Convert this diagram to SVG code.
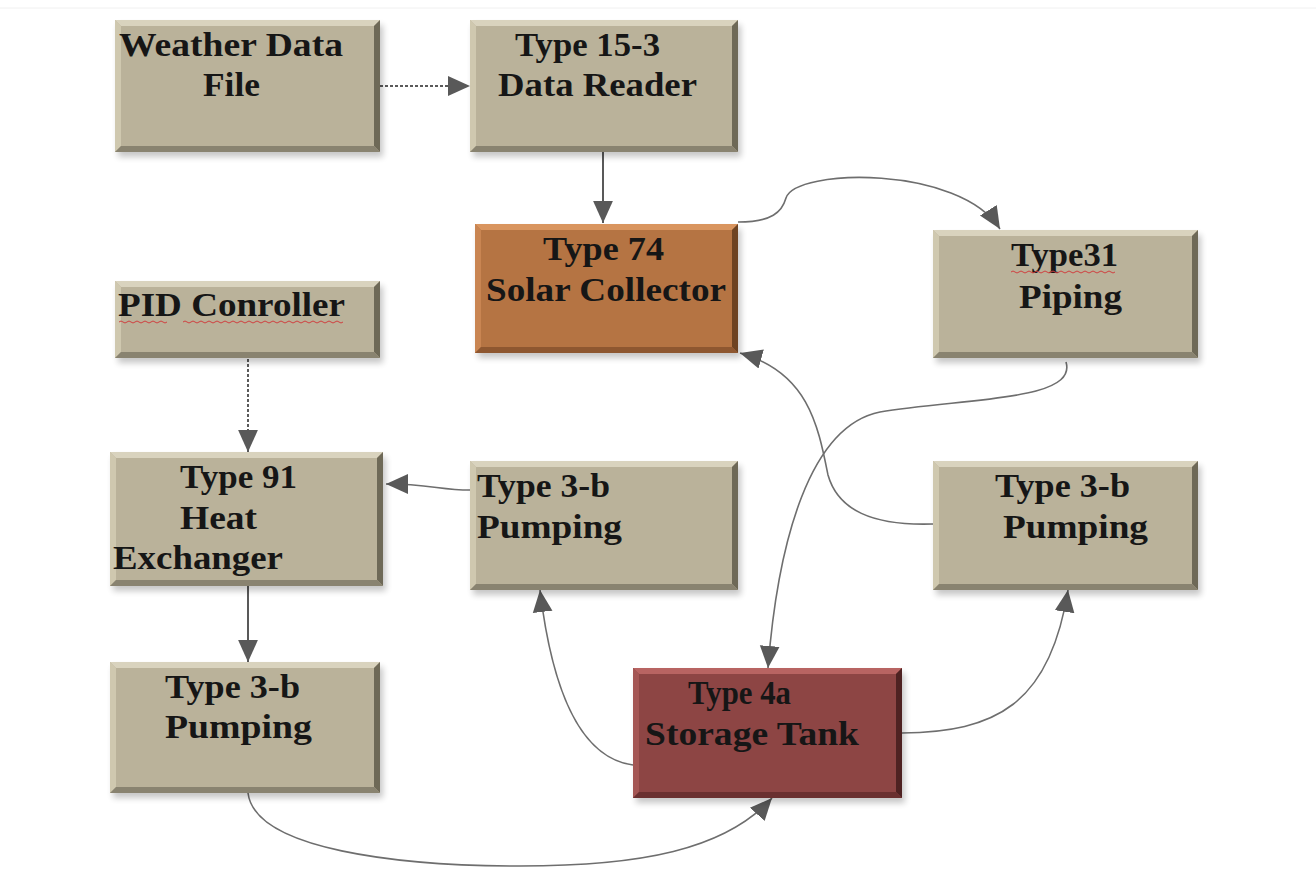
<svg xmlns="http://www.w3.org/2000/svg" width="1316" height="869" viewBox="0 0 1316 869">
<defs>
<style>
.lbl{font-family:"Liberation Serif","DejaVu Serif",serif;font-weight:bold;font-size:34px;fill:#161616}
.conn{fill:none;stroke:#6e6e6e;stroke-width:1.6}
.str{fill:none;stroke:#595959;stroke-width:2}
.dot{fill:none;stroke:#5a5a5a;stroke-width:2;stroke-dasharray:3 2}
.sq{fill:none;stroke:#d04040;stroke-width:1}
.bt{fill:#D9D3BE}.bl{fill:#CFC8AF}.br{fill:#6E6957}.bb{fill:#898370}
.sh{fill:#000;opacity:0.22}
</style>
<marker id="ahb" viewBox="0 0 10 10" refX="10" refY="5" markerWidth="22" markerHeight="22" markerUnits="userSpaceOnUse" orient="auto">
<path d="M0,0.5 L10,5 L0,9.5 z" fill="#595959"/>
</marker>
<filter id="blur" x="-10%" y="-10%" width="120%" height="120%"><feGaussianBlur stdDeviation="3"/></filter>
</defs>
<rect width="1316" height="869" fill="#ffffff"/>
<line x1="0" y1="8" x2="1316" y2="8" stroke="#f0f0f0" stroke-width="1"/>

<g id="connectors">
<line class="dot" x1="380" y1="86" x2="470" y2="86" marker-end="url(#ahb)"/>
<line class="str" x1="603" y1="152" x2="603" y2="223" marker-end="url(#ahb)"/>
<path class="conn" d="M738,222 C772,222 782,212 786,198 C795,168 960,165 1000,229" marker-end="url(#ahb)"/>
<path class="conn" d="M1066,362 C1078,402 960,398 880,412 C810,426 778,540 768,668" marker-end="url(#ahb)"/>
<path class="conn" d="M933,524 C872,526 838,510 828,475 C818,425 808,372 740,353" marker-end="url(#ahb)"/>
<path class="conn" d="M470,490 C440,490 430,484 386,484" marker-end="url(#ahb)"/>
<line class="dot" x1="248" y1="359" x2="248" y2="452" marker-end="url(#ahb)"/>
<line class="str" x1="248" y1="586" x2="248" y2="662" marker-end="url(#ahb)"/>
<path class="conn" d="M633,765 C580,758 552,690 540,590" marker-end="url(#ahb)"/>
<path class="conn" d="M902,733 C995,732 1050,705 1068,590" marker-end="url(#ahb)"/>
<path class="conn" d="M248,793 C255,850 400,866 520,866 C640,866 725,850 772,798" marker-end="url(#ahb)"/>
</g>

<g id="weather" transform="translate(115,20)">
<rect class="sh" x="3" y="5" width="265" height="132" filter="url(#blur)"/>
<rect width="265" height="132" fill="#BAB29A"/>
<polygon class="bt" points="0,0 265,0 259,6 6,6"/>
<polygon class="bl" points="0,0 6,6 6,126 0,132"/>
<polygon class="br" points="265,0 265,132 259,126 259,6"/>
<polygon class="bb" points="0,132 265,132 259,126 6,126"/>
<text class="lbl" x="4" y="36" textLength="224" lengthAdjust="spacingAndGlyphs">Weather Data</text>
<text class="lbl" x="88" y="76" textLength="57" lengthAdjust="spacingAndGlyphs">File</text>
</g>

<g id="datareader" transform="translate(470,20)">
<rect class="sh" x="3" y="5" width="268" height="132" filter="url(#blur)"/>
<rect width="268" height="132" fill="#BAB29A"/>
<polygon class="bt" points="0,0 268,0 262,6 6,6"/>
<polygon class="bl" points="0,0 6,6 6,126 0,132"/>
<polygon class="br" points="268,0 268,132 262,126 262,6"/>
<polygon class="bb" points="0,132 268,132 262,126 6,126"/>
<text class="lbl" x="45" y="36" textLength="145" lengthAdjust="spacingAndGlyphs">Type 15-3</text>
<text class="lbl" x="28" y="76" textLength="199" lengthAdjust="spacingAndGlyphs">Data Reader</text>
</g>

<g id="solar" transform="translate(475,224)">
<rect class="sh" x="3" y="5" width="263" height="129" filter="url(#blur)"/>
<rect width="263" height="129" fill="#B57443"/>
<polygon points="0,0 263,0 257,6 6,6" fill="#D9955F"/>
<polygon points="0,0 6,6 6,123 0,129" fill="#C98552"/>
<polygon points="263,0 263,129 257,123 257,6" fill="#6E4322"/>
<polygon points="0,129 263,129 257,123 6,123" fill="#8E5730"/>
<text class="lbl" x="68" y="36" textLength="121" lengthAdjust="spacingAndGlyphs">Type 74</text>
<text class="lbl" x="11" y="77" textLength="240" lengthAdjust="spacingAndGlyphs">Solar Collector</text>
</g>

<g id="piping" transform="translate(933,230)">
<rect class="sh" x="3" y="5" width="265" height="128" filter="url(#blur)"/>
<rect width="265" height="128" fill="#BAB29A"/>
<polygon class="bt" points="0,0 265,0 259,6 6,6"/>
<polygon class="bl" points="0,0 6,6 6,122 0,128"/>
<polygon class="br" points="265,0 265,128 259,122 259,6"/>
<polygon class="bb" points="0,128 265,128 259,122 6,122"/>
<text class="lbl" x="78" y="36" textLength="107" lengthAdjust="spacingAndGlyphs">Type31</text>
<path class="sq" d="M78,42 q2,-2 4,0 t4,0 t4,0 t4,0 t4,0 t4,0 t4,0 t4,0 t4,0 t4,0 t4,0 t4,0 t4,0 t4,0 t4,0 t4,0 t4,0 t4,0 t4,0 t4,0 t4,0 t4,0 t4,0 t4,0 t4,0 t4,0"/>
<text class="lbl" x="86" y="78" textLength="103" lengthAdjust="spacingAndGlyphs">Piping</text>
</g>

<g id="pid" transform="translate(115,281)">
<rect class="sh" x="3" y="5" width="265" height="77" filter="url(#blur)"/>
<rect width="265" height="77" fill="#BAB29A"/>
<polygon class="bt" points="0,0 265,0 259,6 6,6"/>
<polygon class="bl" points="0,0 6,6 6,71 0,77"/>
<polygon class="br" points="265,0 265,77 259,71 259,6"/>
<polygon class="bb" points="0,77 265,77 259,71 6,71"/>
<text class="lbl" x="3" y="35" textLength="227" lengthAdjust="spacingAndGlyphs">PID Conroller</text>
<path class="sq" d="M4,41 q2,-2 4,0 t4,0 t4,0 t4,0 t4,0 t4,0 t4,0 t4,0 t4,0 t4,0 t4,0 t4,0 M68,41 q2,-2 4,0 t4,0 t4,0 t4,0 t4,0 t4,0 t4,0 t4,0 t4,0 t4,0 t4,0 t4,0 t4,0 t4,0 t4,0 t4,0 t4,0 t4,0 t4,0 t4,0 t4,0 t4,0 t4,0 t4,0 t4,0 t4,0 t4,0 t4,0 t4,0 t4,0 t4,0 t4,0 t4,0 t4,0 t4,0 t4,0 t4,0 t4,0 t4,0 t4,0"/>
</g>

<g id="heatexchanger" transform="translate(110,452)">
<rect class="sh" x="3" y="5" width="273" height="134" filter="url(#blur)"/>
<rect width="273" height="134" fill="#BAB29A"/>
<polygon class="bt" points="0,0 273,0 267,6 6,6"/>
<polygon class="bl" points="0,0 6,6 6,128 0,134"/>
<polygon class="br" points="273,0 273,134 267,128 267,6"/>
<polygon class="bb" points="0,134 273,134 267,128 6,128"/>
<text class="lbl" x="70" y="36" textLength="117" lengthAdjust="spacingAndGlyphs">Type 91</text>
<text class="lbl" x="70" y="77" textLength="77" lengthAdjust="spacingAndGlyphs">Heat</text>
<text class="lbl" x="3" y="117" textLength="170" lengthAdjust="spacingAndGlyphs">Exchanger</text>
</g>

<g id="pumping-mid" transform="translate(470,461)">
<rect class="sh" x="3" y="5" width="268" height="129" filter="url(#blur)"/>
<rect width="268" height="129" fill="#BAB29A"/>
<polygon class="bt" points="0,0 268,0 262,6 6,6"/>
<polygon class="bl" points="0,0 6,6 6,123 0,129"/>
<polygon class="br" points="268,0 268,129 262,123 262,6"/>
<polygon class="bb" points="0,129 268,129 262,123 6,123"/>
<text class="lbl" x="7" y="36" textLength="133" lengthAdjust="spacingAndGlyphs">Type 3-b</text>
<text class="lbl" x="7" y="77" textLength="145" lengthAdjust="spacingAndGlyphs">Pumping</text>
</g>

<g id="pumping-right" transform="translate(933,461)">
<rect class="sh" x="3" y="5" width="265" height="129" filter="url(#blur)"/>
<rect width="265" height="129" fill="#BAB29A"/>
<polygon class="bt" points="0,0 265,0 259,6 6,6"/>
<polygon class="bl" points="0,0 6,6 6,123 0,129"/>
<polygon class="br" points="265,0 265,129 259,123 259,6"/>
<polygon class="bb" points="0,129 265,129 259,123 6,123"/>
<text class="lbl" x="62" y="36" textLength="135" lengthAdjust="spacingAndGlyphs">Type 3-b</text>
<text class="lbl" x="70" y="77" textLength="145" lengthAdjust="spacingAndGlyphs">Pumping</text>
</g>

<g id="pumping-bottom" transform="translate(110,662)">
<rect class="sh" x="3" y="5" width="270" height="131" filter="url(#blur)"/>
<rect width="270" height="131" fill="#BAB29A"/>
<polygon class="bt" points="0,0 270,0 264,6 6,6"/>
<polygon class="bl" points="0,0 6,6 6,125 0,131"/>
<polygon class="br" points="270,0 270,131 264,125 264,6"/>
<polygon class="bb" points="0,131 270,131 264,125 6,125"/>
<text class="lbl" x="55" y="36" textLength="135" lengthAdjust="spacingAndGlyphs">Type 3-b</text>
<text class="lbl" x="55" y="76" textLength="147" lengthAdjust="spacingAndGlyphs">Pumping</text>
</g>

<g id="storagetank" transform="translate(633,668)">
<rect class="sh" x="3" y="5" width="269" height="130" filter="url(#blur)"/>
<rect width="269" height="130" fill="#8D4544"/>
<polygon points="0,0 269,0 263,6 6,6" fill="#B86462"/>
<polygon points="0,0 6,6 6,124 0,130" fill="#A45654"/>
<polygon points="269,0 269,130 263,124 263,6" fill="#4E2222"/>
<polygon points="0,130 269,130 263,124 6,124" fill="#6A3030"/>
<text class="lbl" x="55" y="36" textLength="103" lengthAdjust="spacingAndGlyphs">Type 4a</text>
<text class="lbl" x="12" y="77" textLength="214" lengthAdjust="spacingAndGlyphs">Storage Tank</text>
</g>
</svg>
